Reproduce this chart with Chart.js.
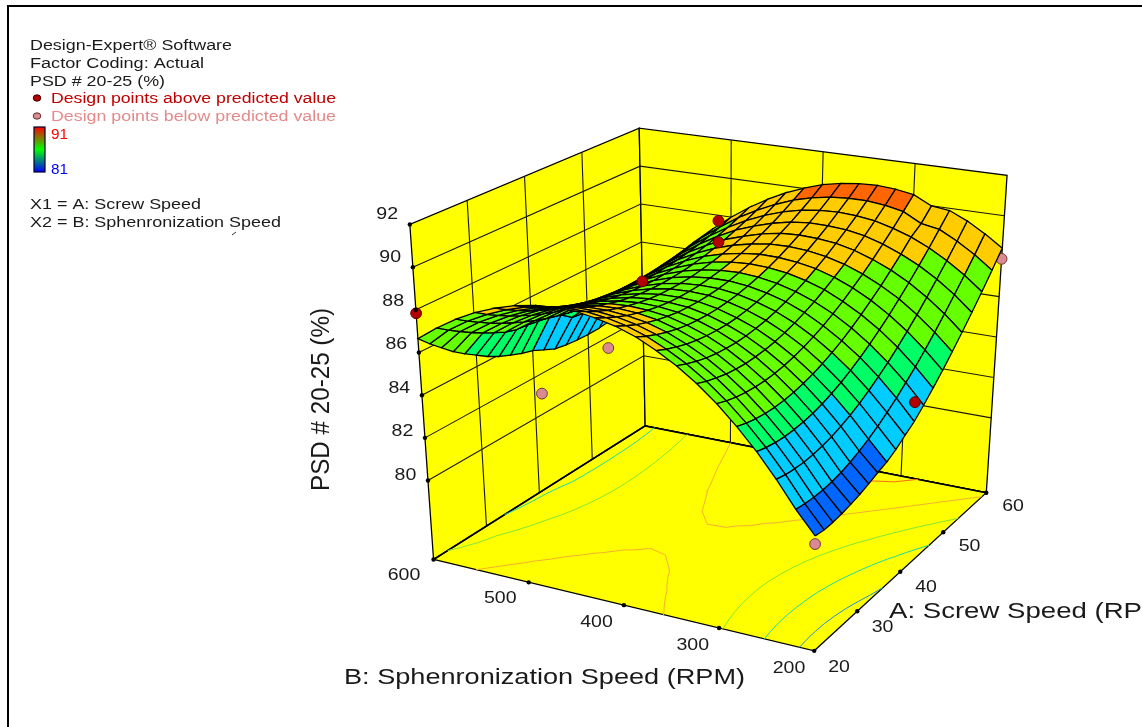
<!DOCTYPE html>
<html><head><meta charset="utf-8">
<style>html,body{margin:0;padding:0;background:#fff;overflow:hidden}canvas{display:block}</style>
<script src="https://cdn.jsdelivr.net/npm/chart.js@4/dist/chart.umd.js"></script>
</head><body><canvas id="c" width="1142" height="727"></canvas>
<script>
// ---------- data ----------
const speedA = [20,22,24,26,28,30,32,34,36,38,40,42,44,46,48,50,52,54,56,58,60];
const speedB = [200,220,240,260,280,300,320,340,360,380,400,420,440,460,480,500,520,540,560,580,600];
// one row per entry of speedB, one column per entry of speedA
const psd = [
[81.25,81.20,81.22,81.28,81.38,81.50,81.66,81.84,82.00,82.25,82.58,82.90,83.34,83.82,84.34,84.91,85.52,86.17,86.87,87.61,88.40],
[82.22,82.16,82.14,82.15,82.21,82.31,82.46,82.65,82.88,83.15,83.47,83.83,84.24,84.67,85.16,85.69,86.27,86.89,87.54,88.24,88.98],
[83.35,83.26,83.22,83.21,83.25,83.33,83.44,83.61,83.81,84.05,84.34,84.67,85.03,85.45,85.90,86.39,86.93,87.51,88.12,88.78,89.49],
[84.39,84.28,84.21,84.18,84.20,84.25,84.34,84.47,84.65,84.86,85.12,85.42,85.75,86.13,86.54,87.01,87.50,88.04,88.61,89.24,89.89],
[85.32,85.19,85.10,85.05,85.04,85.07,85.14,85.25,85.39,85.58,85.80,86.06,86.37,86.71,87.10,87.51,87.98,88.47,89.02,89.40,90.00],
[86.16,86.01,85.90,85.83,85.80,85.80,85.84,85.92,86.04,86.20,86.39,86.62,86.90,87.20,87.56,87.94,88.36,88.83,89.32,89.87,90.44],
[86.89,86.72,86.60,86.50,86.45,86.42,86.45,86.50,86.59,86.72,86.89,87.10,87.33,87.62,87.93,88.28,88.67,89.10,89.56,90.06,90.59],
[87.52,87.34,87.19,87.07,87.00,86.96,86.95,86.98,87.05,87.15,87.29,87.47,87.67,87.92,88.21,88.52,88.88,89.27,89.69,90.16,90.66],
[88.04,87.84,87.68,87.54,87.45,87.39,87.36,87.36,87.40,87.48,87.59,87.74,87.92,88.14,88.38,88.67,88.99,89.34,89.74,90.16,90.62],
[88.49,88.27,88.08,87.93,87.81,87.72,87.68,87.66,87.68,87.73,87.81,87.93,88.08,88.26,88.48,88.74,89.03,89.35,89.70,90.09,90.51],
[88.82,88.59,88.38,88.22,88.08,87.98,87.90,87.87,87.86,87.89,87.94,88.03,88.16,88.31,88.50,88.72,88.98,89.26,89.58,89.93,90.32],
[89.04,88.80,88.58,88.39,88.24,88.11,88.02,87.95,87.92,87.93,87.96,88.03,88.12,88.25,88.40,88.59,88.82,89.07,89.36,89.68,90.02],
[89.19,88.93,88.69,88.48,88.31,88.17,88.05,87.97,87.91,87.90,87.90,87.94,88.01,88.11,88.23,88.39,88.56,88.79,89.05,89.33,89.65],
[89.22,88.94,88.70,88.47,88.28,88.12,87.98,87.88,87.80,87.76,87.74,87.76,87.80,87.87,87.97,88.10,88.26,88.45,88.66,88.90,89.18],
[89.15,88.85,88.59,88.35,88.15,87.96,87.81,87.69,87.59,87.52,87.48,87.46,87.49,87.53,87.61,87.70,87.83,87.99,88.17,88.39,88.63],
[88.99,88.68,88.40,88.15,87.93,87.73,87.56,87.41,87.29,87.20,87.14,87.10,87.09,87.11,87.16,87.23,87.33,87.45,87.60,87.78,87.99],
[88.72,88.40,88.11,87.84,87.61,87.38,87.20,87.04,86.90,86.78,86.70,86.64,86.60,86.60,86.62,86.66,86.73,86.82,86.95,87.10,87.26],
[88.36,88.02,87.72,87.44,87.19,86.95,86.75,86.56,86.41,86.27,86.17,86.09,86.03,86.00,85.99,86.01,86.05,86.12,86.20,86.32,86.46],
[87.89,87.55,87.24,86.94,86.67,86.43,86.20,86.01,85.83,85.68,85.55,85.44,85.37,85.31,85.28,85.27,85.29,85.32,85.38,85.47,85.57],
[87.32,86.96,86.64,86.33,86.05,85.79,85.55,85.40,85.35,85.30,85.20,85.00,84.60,84.51,84.45,84.41,84.41,84.41,84.44,84.50,84.58],
[86.65,86.15,85.70,85.25,84.88,84.54,84.20,83.92,83.70,83.50,83.35,83.10,82.85,82.75,82.70,82.68,82.70,82.78,82.90,83.08,83.30]
];
const ticksA = [20,30,40,50,60];
const ticksB = [200,300,400,500,600];
const ticksZ = [80,82,84,86,88,90,92];
const zFloor = 76.3, zTop = 92;
const contourLevels = [82,84,86,88,90];
const bandLevels = [82.45,84.3,85.4,88.15,89.95];
const bandColors = ['#0066ff','#00ccff','#00ff66','#66ff00','#ffcc00','#ff6600'];
const contourColors = ['#1f8fe0','#19dca8','#7fe83a','#f8b030','#ff6a1a'];
// design points: A, B, response
const aboveA = [20,60,40,40,42], aboveB = [600,600,400,400,200], aboveZ = [87.84,83.92,91.18,90.16,83.8];
const belowA = [20,41.3,20,60], belowB = [408,600,200,200], belowZ = [87.78,81.02,80.9,87.87];

// ---------- view: box corners as seen in the picture, floor then top ----------
const boxFloor = {a20b600:[432,563],a20b200:[817,656],a60b200:[991,495],a60b600:[646,427]};
const boxTop   = {a20b600:[408,222],a20b200:[820,285],a60b200:[1012,172],a60b600:[640,124]};
function project(a,b,z){
  const u=(a-20)/40,v=(600-b)/400,w=(z-zFloor)/(zTop-zFloor);
  const bil=(k,i)=>(1-u)*(1-v)*k.a20b600[i]+(1-u)*v*k.a20b200[i]+u*v*k.a60b200[i]+u*(1-v)*k.a60b600[i];
  return {x:(1-w)*bil(boxFloor,0)+w*bil(boxTop,0),y:(1-w)*bil(boxFloor,1)+w*bil(boxTop,1)};
}

// ---------- datasets, listed in paint order ----------
const layers=[];
const poly=(pts,fillColor,stroke,width)=>layers.push({data:pts.concat([pts[0]]),showLine:true,fill:'shape',backgroundColor:fillColor,borderColor:stroke,borderWidth:width,pointRadius:0,tension:0});
const line=(pts,color,width)=>layers.push({data:pts,showLine:true,fill:false,borderColor:color,borderWidth:width,pointRadius:0,tension:0});
const yellow='#ffff00',ink='#000000';
// floor and back walls
poly([project(60,600,zFloor),project(60,600,zTop),project(20,600,zTop),project(20,600,zFloor)],yellow,ink,1.3);
poly([project(60,600,zFloor),project(60,600,zTop),project(60,200,zTop),project(60,200,zFloor)],yellow,ink,1.3);
poly([project(20,600,zFloor),project(20,200,zFloor),project(60,200,zFloor),project(60,600,zFloor)],yellow,ink,1.3);
for(const z of ticksZ.slice(0,-1)){
  line([project(20,600,z),project(60,600,z),project(60,200,z)],'#1a1a00',1.1);
}
for(const a of ticksA.slice(1,-1))line([project(a,600,zFloor),project(a,600,zTop)],'#1a1a00',1.1);
for(const b of ticksB.slice(1,-1))line([project(60,b,zFloor),project(60,b,zTop)],'#1a1a00',1.1);
line([project(20,600,zFloor),project(60,600,zFloor),project(60,200,zFloor)],ink,1.6);
// contours on the floor
contourLevels.forEach((lev,li)=>{
  const segs=[];
  for(let r=0;r<speedB.length-1;r++)for(let c=0;c<speedA.length-1;c++){
    const cor=[[c,r],[c+1,r],[c+1,r+1],[c,r+1]],cross=[];
    for(let e=0;e<4;e++){
      const [c1,r1]=cor[e],[c2,r2]=cor[(e+1)%4],z1=psd[r1][c1],z2=psd[r2][c2];
      if((z1<lev)!==(z2<lev)){const t=(lev-z1)/(z2-z1);
        cross.push(project(speedA[c1]+t*(speedA[c2]-speedA[c1]),speedB[r1]+t*(speedB[r2]-speedB[r1]),zFloor));}
    }
    for(let k=0;k+1<cross.length;k+=2)segs.push(cross[k],cross[k+1],{x:null,y:null});
  }
  line(segs,contourColors[li],1);
});
// design points under the surface
layers.push({data:belowA.map((a,i)=>project(a,belowB[i],belowZ[i])),backgroundColor:'#dc8a92',borderColor:'#6b3b3b',borderWidth:1,pointRadius:5.4,showLine:false});
// surface, far cells first
const bandOf=v=>{let k=0;while(k<bandLevels.length&&v>=bandLevels[k])k++;return bandColors[k];};
for(let c=speedA.length-2;c>=0;c--)for(let r=speedB.length-2;r>=0;r--){
  const zs=[psd[r][c],psd[r][c+1],psd[r+1][c+1],psd[r+1][c]];
  const mean=(zs[0]+zs[1]+zs[2]+zs[3])/4;
  poly([project(speedA[c],speedB[r],zs[0]),project(speedA[c+1],speedB[r],zs[1]),project(speedA[c+1],speedB[r+1],zs[2]),project(speedA[c],speedB[r+1],zs[3])],bandOf(mean),ink,1.3);
}
// design points above the surface
layers.push({data:aboveA.map((a,i)=>project(a,aboveB[i],aboveZ[i])),backgroundColor:'#b30000',borderColor:'#5c0000',borderWidth:1,pointRadius:5.4,showLine:false});
// tick dots
const tickPts=[...ticksZ.map(z=>project(20,600,z)),...ticksB.map(b=>project(20,b,zFloor)),...ticksA.slice(1).map(a=>project(a,200,zFloor))];
layers.push({data:tickPts,backgroundColor:ink,borderColor:ink,borderWidth:0,pointRadius:2.2,showLine:false});

// ---------- text, legend key ----------
const FONT='"Liberation Sans",Arial,sans-serif';
function put(ctx,t,x,y,o){
  o=o||{};ctx.save();ctx.font=(o.size||15.5)+'px '+FONT;ctx.fillStyle=o.color||'#1a1a1a';
  ctx.textBaseline='alphabetic';ctx.textAlign='left';
  const m=ctx.measureText(t).width,s=o.fitPrefix?o.width/ctx.measureText(o.fitPrefix).width:(o.width?o.width/m:(o.sx||1));
  ctx.translate(x,y);if(o.rot)ctx.rotate(o.rot);ctx.scale(s,1);
  const dx=o.align==='center'?-m/2:o.align==='right'?-m:0;
  ctx.fillText(t,dx,0);ctx.restore();
}
const chrome={id:'chrome',afterDatasetsDraw(chart){
  const ctx=chart.ctx;
  // page frame
  ctx.fillStyle='#000';ctx.fillRect(7,5,1135,2);ctx.fillRect(7,5,2,722);
  put(ctx,'Design-Expert® Software',30,50,{width:202});
  put(ctx,'Factor Coding: Actual',30,68,{width:174});
  put(ctx,'PSD # 20-25 (%)',30,86,{width:135});
  put(ctx,'Design points above predicted value',51,103,{width:285,color:'#c00000'});
  put(ctx,'Design points below predicted value',51,121,{width:285,color:'#e58a8a'});
  put(ctx,'91',51,139,{width:17,color:'#ff0000'});
  put(ctx,'81',51,174,{width:17,color:'#0000ff'});
  put(ctx,'X1 = A: Screw Speed',30,209,{width:171});
  put(ctx,'X2 = B: Sphenronization Speed',30,227,{width:251});
  // key markers
  for(const [y,f,s] of [[98,'#b30000','#3a0000'],[116,'#dc8a92','#5c3030']]){
    ctx.beginPath();ctx.ellipse(37,y,3.8,3.2,0,0,7);ctx.fillStyle=f;ctx.fill();ctx.strokeStyle=s;ctx.lineWidth=1;ctx.stroke();
  }
  const g=ctx.createLinearGradient(0,127,0,172);
  g.addColorStop(0,'#ff0000');g.addColorStop(.5,'#00ff00');g.addColorStop(1,'#0000ff');
  ctx.fillStyle=g;ctx.fillRect(34,127,11,45);ctx.strokeStyle='#00002a';ctx.lineWidth=1.2;ctx.strokeRect(34,127,11,45);
  ctx.strokeStyle='#333';ctx.lineWidth=1;ctx.beginPath();ctx.moveTo(232,235);ctx.lineTo(236,232);ctx.stroke();
  // tick labels
  const T={size:17,sx:1.15};
  for(const z of ticksZ){const p=project(20,600,z);put(ctx,String(z),p.x-10,p.y-3,{...T,align:'right'});}
  for(const b of ticksB){const p=project(20,b,zFloor);put(ctx,String(b),p.x-28,p.y+17,{...T,align:'center'});}
  for(const a of ticksA){const p=project(a,200,zFloor);put(ctx,String(a),p.x+22,p.y+16,{...T,align:'center'});}
  // axis titles
  put(ctx,'B: Sphenronization Speed (RPM)',344,684,{size:22,width:401});
  put(ctx,'A: Screw Speed (RPM)',889,618,{size:22,width:253,fitPrefix:'A: Screw Speed (RP'});
  put(ctx,'PSD # 20-25 (%)',329,491,{size:25,width:183,rot:-Math.PI/2});
}};

// Chart.js paints the first dataset last, so the list is reversed
new Chart(document.getElementById('c'),{
  type:'scatter',
  data:{datasets:layers.slice().reverse()},
  options:{responsive:false,animation:false,events:[],layout:{padding:0},
    plugins:{legend:{display:false},tooltip:{enabled:false},title:{display:false}},
    scales:{x:{type:'linear',min:0,max:1142,display:false},y:{type:'linear',min:0,max:727,reverse:true,display:false}}},
  plugins:[chrome]
});
</script></body></html>
